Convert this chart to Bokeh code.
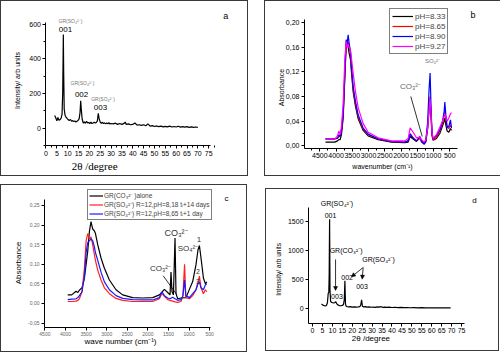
import math
from bokeh.plotting import figure
from bokeh.models import (Range1d, FixedTicker, Label, Legend, LegendItem, Arrow,
                          NormalHead, CustomJSTickFormatter)
from bokeh.layouts import column, row
from bokeh.embed import file_html
from bokeh.resources import INLINE

SANS = "Liberation Sans"
SERIF = "Liberation Serif"

# ---------------- data: panel a (XRD) ----------------
a_theta = [4.0,4.5,5.0,5.5,6.0,6.5,7.0,7.4,7.7,7.85,8.0,8.15,8.4,8.8,9.3,9.8,10.3,10.8,11.3,11.8,
           12.3,12.8,13.3,13.8,14.3,14.8,15.3,15.7,16.0,16.3,16.7,17.2,17.7,18.2,18.7,19.2,19.7,20.2,20.7,21.2,
           21.7,22.2,22.7,23.2,23.7,24.1,24.5,25.0,25.5,26.0,26.5,27.0,27.5,28.0,28.5,29.0,29.5,30.0,31,32,
           33,34,35,36,36.5,37,38,39,40,41,42,43,44,45,46,47,48,49,50,51,52,53,54,55,56,57,58,59,60,61,62,63,
           64,65,66,67,68,69,70]
a_intensity = [73,60,42,62,45,50,58,80,200,360,540,330,110,75,62,55,48,45,50,40,
               44,38,42,35,40,44,55,90,158,105,50,30,36,28,40,30,33,27,35,27,
               30,35,30,33,42,86,55,35,28,34,27,31,25,30,26,32,24,27,25,29,
               22,27,22,28,35,22,25,20,22,30,18,20,16,20,14,25,12,15,10,13,
               9,12,8,11,8,12,7,10,7,11,6,9,6,9,5,8,5,7,5]

# ---------------- data: panel b (IR, pH series) ----------------
b_wavenumber = [4324,4037,3955,3914,3873,3832,3780,3729,3688,3657,3627,3596,3555,3524,3473,3401,3319,3165,3011,2703,
                2293,1883,1780,1719,1627,1524,1422,1370,1288,1237,1180,1135,1105,1075,1045,1011,909,806,724,673,
                652,621,580,529,478,447]
b_ph833 = [0.0060,0.0060,0.0080,0.0100,0.0100,0.018,0.045,0.110,0.165,0.168,0.160,0.150,0.140,0.118,0.088,0.064,0.044,0.025,0.016,0.010,
           0.006,0.005,0.006,0.015,0.011,0.007,0.014,0.006,0.003,0.006,0.028,0.060,0.075,0.045,0.016,0.009,0.012,0.020,0.032,0.040,
           0.045,0.034,0.024,0.022,0.028,0.025]
b_ph865 = [0.0114,0.0110,0.0120,0.0150,0.0150,0.024,0.050,0.115,0.160,0.170,0.168,0.162,0.150,0.125,0.092,0.068,0.047,0.027,0.018,0.011,
           0.007,0.006,0.008,0.020,0.013,0.008,0.012,0.008,0.004,0.008,0.030,0.065,0.080,0.050,0.018,0.010,0.014,0.024,0.036,0.050,
           0.056,0.042,0.030,0.028,0.034,0.030]
b_ph890 = [0.0114,0.0114,0.0124,0.0178,0.0151,0.026,0.053,0.1206,0.172,0.1665,0.180,0.1665,0.153,0.1287,0.0962,0.0719,0.0503,0.0287,0.0189,0.0114,
           0.007,0.0059,0.0081,0.0189,0.0124,0.0081,0.0151,0.0081,0.0027,0.0081,0.0395,0.0935,0.118,0.061,0.0205,0.0114,0.0168,0.026,0.0395,0.0557,
           0.0708,0.0503,0.0297,0.0314,0.042,0.0287]
b_ph927 = [0.0114,0.0114,0.0160,0.0240,0.0180,0.032,0.068,0.140,0.170,0.160,0.165,0.160,0.155,0.142,0.118,0.088,0.062,0.036,0.022,0.013,
           0.008,0.008,0.012,0.029,0.022,0.013,0.014,0.010,0.006,0.010,0.030,0.060,0.076,0.050,0.020,0.012,0.018,0.030,0.040,0.048,
           0.052,0.046,0.040,0.045,0.052,0.054]
b_labels = ["pH=8.33", "pH=8.65", "pH=8.90", "pH=9.27"]

# ---------------- data: panel c (IR) ----------------
c_wn_co3 = [3947,3850,3745,3700,3663,3600,3541,3461,3420,3381,3340,3300,3274,3218,3138,3056,2935,2774,2612,2369,
            2126,1883,1721,1600,1519,1463,1440,1415,1381,1342,1318,1277,1196,1075,993,913,833,784,750,711,
            653,604,573]
c_co3_alone = [0.022,0.022,0.031,0.028,0.034,0.040,0.065,0.133,0.184,0.209,0.190,0.185,0.179,0.150,0.116,0.090,0.060,0.035,0.022,0.015,
               0.014,0.015,0.022,0.036,0.028,0.022,0.080,0.030,0.022,0.167,0.025,0.012,0.014,0.015,0.036,0.056,0.099,0.137,0.148,0.116,
               0.065,0.050,0.055]
c_wn_so4 = [3947,3850,3745,3700,3663,3600,3541,3500,3461,3420,3381,3340,3300,3274,3218,3138,3056,2935,2774,2612,
            2369,2126,1883,1721,1660,1600,1519,1463,1400,1342,1277,1196,1150,1110,1080,993,913,833,784,750,
            711,653,604,573]
c_so4_14days = [0.005,0.005,0.006,0.008,0.012,0.030,0.090,0.160,0.178,0.165,0.170,0.150,0.125,0.110,0.085,0.060,0.040,0.025,0.013,0.008,
                0.005,0.005,0.005,0.012,0.026,0.018,0.010,0.008,0.006,0.004,0.003,0.005,0.020,0.100,0.015,0.012,0.020,0.035,0.055,0.070,
                0.040,0.025,0.035,0.030]
c_so4_1day = [0.010,0.011,0.012,0.015,0.020,0.030,0.070,0.130,0.155,0.160,0.165,0.160,0.145,0.130,0.110,0.080,0.055,0.035,0.020,0.013,
              0.010,0.009,0.009,0.015,0.030,0.020,0.014,0.012,0.016,0.012,0.008,0.010,0.020,0.060,0.020,0.015,0.025,0.035,0.050,0.055,
              0.040,0.035,0.048,0.050]
c_labels = ["GR(CO\u2083\u00b2\u207b )alone",
            "GR(SO\u2084\u00b2\u207b) R=12,pH=8,18 t\u1d62+14 days",
            "GR(SO\u2084\u00b2\u207b) R=12,pH=8,65 t\u1d62+1 day"]

# ---------------- data: panel d (XRD) ----------------
d_theta = [4.5,5.0,5.5,6.0,6.5,7.0,7.5,7.9,8.2,8.4,8.6,8.8,9.1,9.6,10.2,10.8,11.3,11.7,12.1,12.6,
           13.2,13.8,14.4,15.0,15.6,16.0,16.3,16.6,17.0,17.6,18.2,19.0,20.0,21.0,22.0,23.0,23.8,24.3,24.7,25.1,
           25.8,26.6,27.5,28.5,29.5,30.5,31.5,32.5,33.5,34.5,35.5,36.5,37.5,38.5,40,41.5,43,44.5,46,47.5,
           49,51,53,55,57,59,61,63,65,67,69.5]
d_intensity = [72,60,48,42,40,46,95,255,270,600,1540,320,120,100,95,90,98,112,85,62,
               50,45,42,48,65,150,474,70,30,25,22,28,20,24,18,22,26,60,145,35,
               22,28,18,24,16,20,14,22,18,26,15,20,14,18,12,16,10,14,9,12,
               8,10,7,9,6,8,5,7,5,6,5]

xrd_ticks = list(range(0, 80, 5))
ir_ticks = [500, 1000, 1500, 2000, 2500, 3000, 3500, 4000, 4500]


def box_style(sides=("top", "right", "bottom", "left")):
    st = {}
    for s in sides:
        st["border-" + s] = "1px solid #3a3a3a"
    return st


def make_fig(w, h, xr, yr, sides=("top", "right", "bottom", "left"), margin=(0, 0, 0, 0)):
    p = figure(width=w, height=h, x_range=Range1d(*xr), y_range=Range1d(*yr),
               min_border_left=0, min_border_right=0, min_border_top=0, min_border_bottom=0,
               output_backend="svg", toolbar_location=None, styles=box_style(sides), margin=margin)
    p.grid.visible = False
    p.outline_line_color = None
    p.background_fill_color = "white"
    p.border_fill_color = "white"
    return p


def pin_axes(p, xloc, xbounds, yloc, ybounds, size, color="black"):
    p.xaxis.fixed_location = xloc
    p.xaxis.bounds = xbounds
    p.yaxis.fixed_location = yloc
    p.yaxis.bounds = ybounds
    for ax in p.axis:
        ax.major_label_text_font = SANS
        ax.major_label_text_font_size = size
        ax.major_label_text_color = color
        ax.major_tick_in = 0
        ax.major_tick_out = 3
        ax.minor_tick_in = 0
        ax.minor_tick_out = 2
        ax.major_label_standoff = 2
        ax.axis_line_color = "black"


def lab(p, x, y, text, size, color="black", font=SANS, angle=0.0):
    p.add_layout(Label(x=x, y=y, text=text, text_font_size=size, text_color=color,
                       text_font=font, text_align="center", text_baseline="middle", angle=angle))


VERT = math.pi / 2

# ---------------- panel a ----------------
fa = make_fig(248, 176, (-20.5, 93.8), (-284, 730))
fa.line(a_theta, a_intensity, line_color="black", line_width=1.2)
pin_axes(fa, -100, (0, 76), 0, (-100, 610), "7px")
fa.xaxis.ticker = FixedTicker(ticks=xrd_ticks, minor_ticks=[t + 2.5 for t in xrd_ticks])
fa.yaxis.ticker = FixedTicker(ticks=[0, 200, 400, 600], minor_ticks=[-100, 100, 300, 500])
lab(fa, -12.9, 275, "Intensity/ arb units", "7px", angle=VERT)
lab(fa, 22.4, -215, "2\u03b8 /degree", "11px", font=SERIF)
lab(fa, 11.3, 615, "GR(SO\u2084\u00b2\u207b)", "5px", "#777777")
lab(fa, 9.0, 569, "001", "8px")
lab(fa, 16.8, 263, "GR(SO\u2084\u00b2\u207b)", "5px", "#777777")
lab(fa, 16.4, 194, "002", "8px")
lab(fa, 26.3, 171, "GR(SO\u2084\u00b2\u207b)", "5px", "#777777")
lab(fa, 25.1, 119, "003", "8px")
lab(fa, 82.9, 644, "a", "9px")

# ---------------- panel b ----------------
fb = make_fig(236, 176, (6170, -1092), (-0.0514, 0.2341), sides=("top", "bottom", "left"),
              margin=(0, 0, 0, 16))
colors_b = ["black", "#ff0000", "#0000ff", "#ff00ff"]
rb = []
for ys, c in zip([b_ph833, b_ph865, b_ph890, b_ph927], colors_b):
    rb.append(fb.line(b_wavenumber, ys, line_color=c, line_width=1.2))
pin_axes(fb, -0.004, (4970, 270), 4970, (-0.004, 0.205), "7px")
fb.xaxis.ticker = FixedTicker(ticks=ir_ticks, minor_ticks=[t + 250 for t in ir_ticks])
fb.yaxis.ticker = FixedTicker(ticks=[0, 0.04, 0.08, 0.12, 0.16, 0.20],
                              minor_ticks=[0.02, 0.06, 0.10, 0.14, 0.18])
fb.yaxis.formatter = CustomJSTickFormatter(code="return tick.toFixed(2).replace('.', ',');")
lab(fb, 2570, -0.0336, "wavenumber (cm\u207b\u00b9)", "7px")
lab(fb, 5678, 0.0945, "Absorbance", "7px", angle=VERT)
legb = Legend(items=[LegendItem(label=l, renderers=[r]) for l, r in zip(b_labels, rb)],
              location=(124, 123), label_text_font=SANS, label_text_font_size="8px",
              label_height=10, glyph_height=10, glyph_width=21, label_standoff=2,
              padding=2, spacing=0, margin=0, border_line_color="black",
              border_line_width=1, background_fill_alpha=1)
fb.add_layout(legb)
lab(fb, 1708, 0.096, "CO\u2083\u00b2\u207b", "8px", "#666666")
fb.add_layout(Arrow(end=None, x_start=1699, y_start=0.080, x_end=1348, y_end=0.0151,
                    line_color="black", line_width=0.8))
lab(fb, 1032, 0.137, "SO\u2084\u00b2\u207b", "6px", "#777777")
lab(fb, -215, 0.212, "b", "9px")

# ---------------- panel c ----------------
fc = make_fig(247, 168, (5553.7, -441.5), (-0.1276, 0.301), margin=(8, 0, 0, 0))
rc = [fc.line(c_wn_co3, c_co3_alone, line_color="black", line_width=1.2),
      fc.line(c_wn_so4, c_so4_14days, line_color="#ff2020", line_width=1.2),
      fc.line(c_wn_so4, c_so4_1day, line_color="#1a1aff", line_width=1.2)]
pin_axes(fc, -0.06, (4510, 470), 4510, (-0.06, 0.265), "5px", "#666666")
fc.xaxis.ticker = FixedTicker(ticks=ir_ticks)
fc.yaxis.ticker = FixedTicker(ticks=[-0.05, 0, 0.05, 0.10, 0.15, 0.20, 0.25])
fc.yaxis.formatter = CustomJSTickFormatter(code="return tick.toFixed(2).replace('.', ',');")
lab(fc, 2665, -0.0982, "wave number (cm\u207b\u00b9)", "8px")
lab(fc, 5153, 0.1033, "Absorbance", "8px", angle=VERT)
legc = Legend(items=[LegendItem(label=l, renderers=[r]) for l, r in zip(c_labels, rc)],
              location=(86, 133), label_text_font=SANS, label_text_font_size="6.5px",
              label_height=9, glyph_height=9, glyph_width=14, label_standoff=1,
              padding=1, spacing=0, margin=0, border_line_color="black",
              border_line_width=1, background_fill_alpha=1)
fc.add_layout(legc)
lab(fc, 1318, 0.179, "CO\u2083\u00b2\u207b", "9px", "#333333")
lab(fc, 1027, 0.139, "SO\u2084\u00b2\u207b", "8px", "#333333")
lab(fc, 760, 0.1645, "1", "8px", "#333333")
lab(fc, 784, 0.082, "2", "7px", "#333333")
lab(fc, 784, 0.055, "3", "7px", "#333333")
lab(fc, 1694, 0.088, "CO\u2083\u00b2\u207b", "8px", "#333333")
fc.add_layout(Arrow(end=None, x_start=1629, y_start=0.0707, x_end=1306, y_end=0.0237,
                    line_color="black", line_width=0.8))
lab(fc, 93, 0.2666, "c", "8px")

# ---------------- panel d ----------------
fd = make_fig(234, 163, (-23.15, 94.6), (-766.4, 2053.6), margin=(12, 0, 0, 18))
fd.line(d_theta, d_intensity, line_color="black", line_width=1.2)
pin_axes(fd, -260, (-2, 76.5), -2, (-260, 1745), "7px")
fd.xaxis.ticker = FixedTicker(ticks=xrd_ticks)
fd.yaxis.ticker = FixedTicker(ticks=[0, 500, 1000, 1500])
lab(fd, -16.9, 670, "Intensity/ arb units", "6.5px", angle=VERT)
lab(fd, 29.4, -524, "2\u03b8 /degree", "8px")
lab(fd, 12.3, 1803, "GR(SO\u2084\u00b2\u207b)", "7px")
lab(fd, 9.06, 1604, "001", "7px")
lab(fd, 16.9, 990, "GR(CO\u2083\u00b2\u207b)", "7px")
head = dict(size=4, fill_color="black", line_color="black", line_width=0.5)
fd.add_layout(Arrow(end=NormalHead(**head), x_start=11.6, y_start=843, x_end=11.6, y_end=306,
                    line_color="black", line_width=0.8))
lab(fd, 12.3, 211, "003", "7px")
lab(fd, 33.2, 834, "GR(SO\u2084\u00b2\u207b)", "7px")
fd.add_layout(Arrow(end=NormalHead(**head), x_start=25.5, y_start=704, x_end=19.6, y_end=543,
                    line_color="black", line_width=0.8))
fd.add_layout(Arrow(end=NormalHead(**head), x_start=25.5, y_start=704, x_end=25.0, y_end=502,
                    line_color="black", line_width=0.8))
lab(fd, 17.4, 536, "002", "7px")
lab(fd, 24.9, 375, "003", "7px")
lab(fd, 81.5, 1855, "d", "8px")

layout = column(row(fa, fb), row(fc, fd))
open("out.html", "w").write(file_html(layout, INLINE))
